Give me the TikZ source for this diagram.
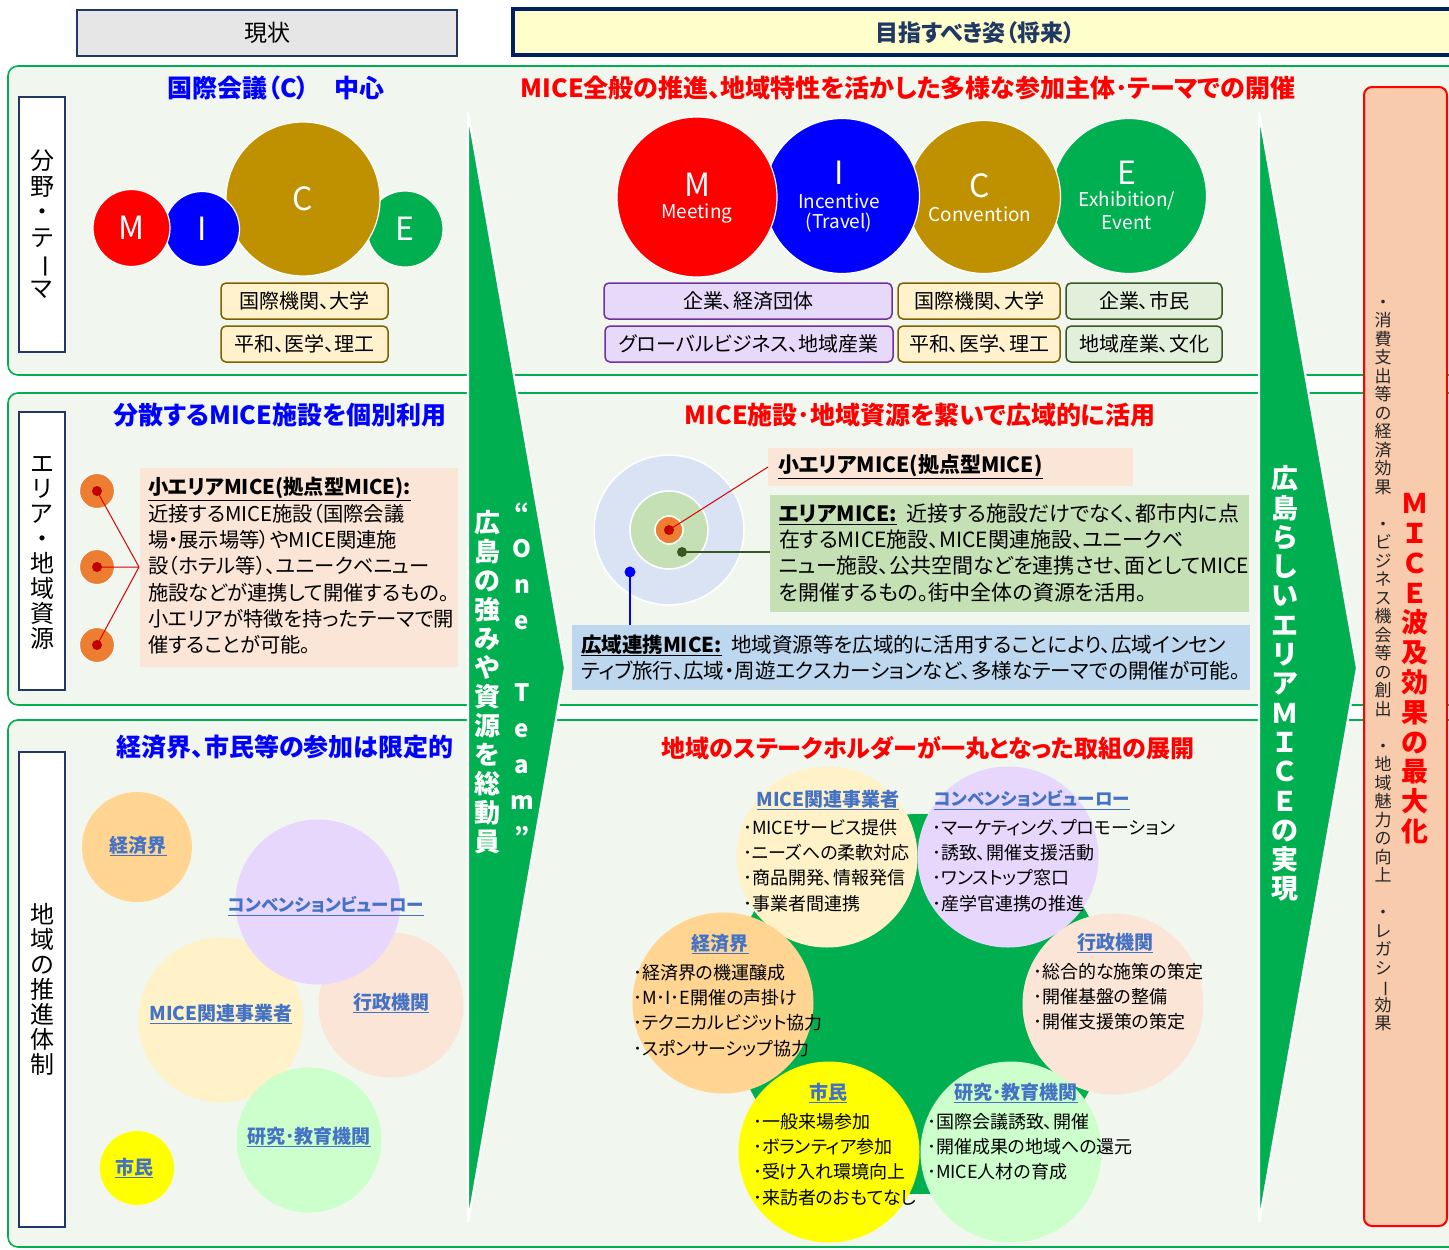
\documentclass[tikz,border=0pt]{standalone}
\usepackage{fontspec}
\usepackage{graphicx}
\setmainfont{Noto Sans CJK JP}[CharacterWidth=AlternateProportional]
\definecolor{cgreen}{HTML}{00B050}
\definecolor{panelfill}{HTML}{F1F6EE}
\definecolor{navy}{HTML}{1F3864}
\definecolor{navyb}{HTML}{002060}
\definecolor{hgray}{HTML}{E7E6E6}
\definecolor{hyel}{HTML}{FFFFCC}
\definecolor{cgold}{HTML}{BF9000}
\definecolor{beige}{HTML}{FFF2CC}
\definecolor{brownb}{HTML}{7F6000}
\definecolor{lpurp}{HTML}{E6D9FA}
\definecolor{purpb}{HTML}{7030A0}
\definecolor{lgreenb}{HTML}{E2EFDA}
\definecolor{dgreen}{HTML}{385723}
\definecolor{peach}{HTML}{FBE5D6}
\definecolor{orng}{HTML}{ED7D31}
\definecolor{dred}{HTML}{C00000}
\definecolor{mgreen}{HTML}{C5E0B4}
\definecolor{lblue}{HTML}{BDD7EE}
\definecolor{llblue}{HTML}{DAE3F3}
\definecolor{labblue}{HTML}{4472C4}
\definecolor{tblue}{HTML}{0000FF}
\definecolor{tred}{HTML}{FF0000}
\definecolor{redfill}{HTML}{F8CBAD}
\definecolor{ckei}{HTML}{FFD591}
\definecolor{cmice}{HTML}{FFF2C9}
\definecolor{cconv}{HTML}{E7D7FD}
\definecolor{ckenk}{HTML}{CCFFCC}
\definecolor{cshimin}{HTML}{FFFF00}
\definecolor{txtdark}{HTML}{262626}
\newcommand\fsz[2]{\fontsize{#1}{#2}\selectfont}
\makeatletter
\def\vt@end{\vt@endmark}
\newcommand\vtext[2]{\vbox{\baselineskip=#1pt\lineskiplimit=-\maxdimen\lineskip=0pt\relax\vt@loop#2\vt@end}}
\def\vt@loop#1{\ifx#1\vt@end\else\vt@char#1\expandafter\vt@loop\fi}
\def\vt@char#1{\hbox to 1.2em{\hss\vrule height .88em depth .12em width 0pt\ifx#1ー\rotatebox[origin=c]{-90}{ー}\else#1\fi\hss}}
\makeatother
\tikzset{
 panel/.style={draw=cgreen, line width=1.6, fill=panelfill, rounded corners=10},
 vlab/.style={draw=navy, line width=1.6, fill=white, font=\fsz{24}{28}, anchor=north west},
 bigarrow/.style={fill=cgreen, draw=white, line width=2.2, line join=miter},
 tagbox/.style={anchor=north west, rounded corners=5, line width=1.5, font=\fsz{20}{24}, text=black, minimum height=36},
 beigebox/.style={tagbox, fill=beige, draw=brownb},
 purpbox/.style={tagbox, fill=lpurp, draw=purpb},
 grnbox/.style={tagbox, fill=lgreenb, draw=dgreen},
 bluetitle/.style={font=\bfseries\fsz{25}{28}, text=tblue},
 redtitle/.style={font=\bfseries\fsz{25}{28}, text=tred},
 mice/.style={circle, draw=white, line width=1.2},
 bigl/.style={text=white, font=\fsz{32}{36}},
 smalll/.style={text=white, font=\fsz{19}{22}},
 dot/.style={circle, minimum size=10},
 body/.style={font=\fsz{21}{26.3}, align=left, anchor=north west, text=black},
 lab/.style={font=\bfseries\fsz{19}{23}, text=labblue},
 item/.style={font=\fsz{18}{25.3}, align=left, anchor=north west, text=black},
 vwhite/.style={anchor=north, text=white, font=\bfseries\fsz{26}{30}},
}
\begin{document}
\begin{tikzpicture}[x=1pt,y=-1pt, every node/.style={inner sep=0pt, outer sep=0pt}]
\useasboundingbox (0,0) rectangle (1449,1250);
\clip (0,0) rectangle (1449,1250);
\fill[white] (0,0) rectangle (1449,1250);
% headers
\node[anchor=north west, minimum width=380, minimum height=46, draw=navy, line width=1.6, fill=hgray, font=\fsz{23}{28}] (hd1) at (77,10) {現状};
\node[anchor=north west, minimum width=960, minimum height=46, draw=navyb, line width=3.5, fill=hyel] (hd2) at (513,9) {};
\node[font=\bfseries\fsz{23}{28}, text=navy] (hd2t) at (975,33) {目指すべき姿（将来）};
% panels
\draw[panel] (8,66) rectangle (1490,375);
\draw[panel] (8,393) rectangle (1490,705);
\draw[panel] (8,720) rectangle (1490,1247);
% vertical labels
\node[vlab, minimum width=46, minimum height=255] (lb1) at (19,97) {\vtext{25.5}{分野・テーマ}};
\node[vlab, minimum width=46, minimum height=278] (lb2) at (19,412) {\vtext{25}{エリア・地域資源}};
\node[vlab, minimum width=46, minimum height=475] (lb3) at (19,752) {\vtext{25}{地域の推進体制}};
% ---------- row 1 left
\node[bluetitle] (t1l) at (276,88) {国際会議（C）　中心};
\node[mice, fill=cgreen, minimum size=76, bigl] (e1) at (405,229) {E};
\node[mice, fill=cgold, minimum size=154, bigl] (c1) at (303,199) {C};
\node[mice, fill=tblue, minimum size=75, bigl] (i1) at (202,229) {I};
\node[mice, fill=tred, minimum size=77, bigl] (m1) at (131.5,228) {M};
\node[beigebox, minimum width=167] (b1) at (221,283) {国際機関、大学};
\node[beigebox, minimum width=167] (b2) at (221,326) {平和、医学、理工};
% ---------- row 1 right
\node[redtitle] (t1r) at (908,88) {MICE全般の推進、地域特性を活かした多様な参加主体･テーマでの開催};
\node[mice, fill=cgreen, minimum size=155] (e2) at (1129,196) {};
\node[mice, fill=cgold, minimum size=153] (c2) at (984,197) {};
\node[mice, fill=tblue, minimum size=155] (i2) at (842,196) {};
\node[mice, fill=tred, minimum size=160] (m2) at (697,197) {};
\node[bigl] (m2a) at (697,185) {M};
\node[smalll] (m2b) at (697,214) {Meeting};
\node[bigl] (i2a) at (839,173) {I};
\node[smalll] (i2b) at (839,201) {Incentive};
\node[smalll] (i2c) at (839,223) {(Travel)};
\node[bigl] (c2a) at (980,186) {C};
\node[smalll] (c2b) at (980,214) {Convention};
\node[bigl] (e2a) at (1127,173) {E};
\node[smalll] (e2b) at (1127,201) {Exhibition/};
\node[smalll] (e2c) at (1127,223) {Event};
\node[purpbox, minimum width=288] (p1) at (604,283) {企業、経済団体};
\node[purpbox, minimum width=288] (p2) at (605,326) {グローバルビジネス、地域産業};
\node[beigebox, minimum width=162] (b3) at (898,283) {国際機関、大学};
\node[beigebox, minimum width=162] (b4) at (898,326) {平和、医学、理工};
\node[grnbox, minimum width=156] (g1) at (1066,283) {企業、市民};
\node[grnbox, minimum width=156] (g2) at (1066,326) {地域産業、文化};
% ---------- row 2 left
\node[bluetitle] (t2l) at (280,415) {分散するMICE施設を個別利用};
\node[anchor=north west, fill=peach, minimum width=318, minimum height=199] (pb) at (140,468) {};
\node[body, font=\fsz{20.3}{26.3}] (pbt) at (148,477.5) {\underline{\textbf{小エリアMICE(拠点型MICE):}}\\近接するMICE施設（国際会議\\場・展示場等）やMICE関連施\\設（ホテル等）、ユニークベニュー\\施設などが連携して開催するもの。\\小エリアが特徴を持ったテーマで開\\催することが可能。};
\node[circle, fill=orng, draw=white, line width=1, minimum size=35] (o1) at (97,491) {};
\node[circle, fill=orng, draw=white, line width=1, minimum size=35] (o2) at (97,567) {};
\node[circle, fill=orng, draw=white, line width=1, minimum size=35] (o3) at (97,645) {};
\coordinate (jn) at (139,567);
\draw[red!85!black, line width=1] (o1.center) -- (jn) (o2.center) -- (jn) (o3.center) -- (jn);
\node[dot, fill=dred] (d1) at (o1) {};
\node[dot, fill=dred] (d2) at (o2) {};
\node[dot, fill=dred] (d3) at (o3) {};
% ---------- row 2 right
\node[redtitle] (t2r) at (920,415) {MICE施設･地域資源を繋いで広域的に活用};
\node[circle, fill=llblue, draw=white, line width=1.6, minimum size=150] (cc1) at (669,530) {};
\node[circle, fill=mgreen, draw=white, line width=1.6, minimum size=78] (cc2) at (669,530) {};
\node[circle, fill=orng, draw=white, line width=1.6, minimum size=28] (cc3) at (669,530) {};
\node[anchor=north west, fill=peach, minimum width=365, minimum height=38] (sbox) at (768,448) {};
\node[anchor=west, font=\bfseries\fsz{21}{26}] (sboxt) at (778,467) {\underline{小エリアMICE(拠点型MICE)}};
\node[anchor=north west, fill=mgreen, minimum width=479, minimum height=117] (gbox) at (770,495) {};
\node[body] (gboxt) at (779,503.5) {\underline{\textbf{エリアMICE:}}\ \ 近接する施設だけでなく、都市内に点\\在するMICE施設、MICE関連施設、ユニークベ\\ニュー施設、公共空間などを連携させ、面としてMICE\\を開催するもの。街中全体の資源を活用。};
\node[anchor=north west, fill=lblue, minimum width=678, minimum height=65] (bbox) at (572,625) {};
\node[body, font=\fsz{20.5}{26.3}] (bboxt) at (581,634.5) {\underline{\textbf{広域連携MICE:}}\ \ 地域資源等を広域的に活用することにより、広域インセン\\ティブ旅行、広域・周遊エクスカーションなど、多様なテーマでの開催が可能。};
\node[dot, fill=dred] (rdot) at (669,530) {};
\node[dot, fill=dgreen] (gdot) at (682,552) {};
\node[dot, fill=tblue, minimum size=11] (bdot) at (630,572) {};
\draw[red!85!black, line width=1] (rdot.center) -- (sbox.west);
\draw[dgreen, line width=1.2] (gdot.center) -- (gdot.center -| gbox.west);
\draw[tblue, line width=1.2] (bdot.center) -- (bdot.center |- bbox.north);
% ---------- row 3 left
\node[bluetitle] (t3l) at (285,747) {経済界、市民等の参加は限定的};
\node[circle, fill=peach, minimum size=145] (gy1) at (391,1005) {};
\node[circle, fill=cmice, minimum size=165] (mc1) at (221,1020) {};
\node[circle, fill=cconv, minimum size=165] (cv1) at (318,902) {};
\node[circle, fill=ckenk, minimum size=145] (kk1) at (309,1140) {};
\node[circle, fill=ckei, minimum size=110] (kz1) at (137,847) {};
\node[circle, fill=cshimin, minimum size=74] (sm1) at (137,1168) {};
\node[lab] (gy1t) at (391,1003) {\underline{行政機関}};
\node[lab] (mc1t) at (221,1014) {\underline{MICE関連事業者}};
\node[lab, font=\bfseries\fsz{17.5}{22}] (cv1t) at (326,906) {\underline{コンベンションビューロー}};
\node[lab] (kk1t) at (309,1137) {\underline{研究･教育機関}};
\node[lab] (kz1t) at (138,846) {\underline{経済界}};
\node[lab] (sm1t) at (134,1168) {\underline{市民}};
% ---------- row 3 right
\node[font=\bfseries\fsz{24}{28}, text=tred] (t3r) at (928,748) {地域のステークホルダーが一丸となった取組の展開};
\fill[cgreen] (920,1004) circle (190);
\node[circle, fill=cmice, minimum size=181] (mc2) at (827,857) {};
\node[lab] (mc2t) at (828,800) {\underline{MICE関連事業者}};
\node[item] (mc2i) at (743,819) {･MICEサービス提供\\･ニーズへの柔軟対応\\･商品開発、情報発信\\･事業者間連携};
\node[circle, fill=cconv, minimum size=181] (cv2) at (1008,857) {};
\node[lab, font=\bfseries\fsz{17.5}{22}] (cv2t) at (1032,800) {\underline{コンベンションビューロー}};
\node[item] (cv2i) at (932,819) {･マーケティング、プロモーション\\･誘致、開催支援活動\\･ワンストップ窓口\\･産学官連携の推進};
\node[circle, fill=peach, minimum size=181] (gy2) at (1113,1004) {};
\node[lab] (gy2t) at (1115,943) {\underline{行政機関}};
\node[item] (gy2i) at (1033,963) {･総合的な施策の策定\\･開催基盤の整備\\･開催支援策の策定};
\node[circle, fill=ckenk, minimum size=181] (kk2) at (1011,1152) {};
\node[lab] (kk2t) at (1016,1093) {\underline{研究･教育機関}};
\node[item] (kk2i) at (927,1113) {･国際会議誘致、開催\\･開催成果の地域への還元\\･MICE人材の育成};
\node[circle, fill=cshimin, minimum size=181] (sm2) at (829,1152) {};
\node[lab] (sm2t) at (828,1093) {\underline{市民}};
\node[item] (sm2i) at (753,1113) {･一般来場参加\\･ボランティア参加\\･受け入れ環境向上\\･来訪者のおもてなし};
\node[circle, fill=ckei, minimum size=181] (kz2) at (723,1003) {};
\node[lab] (kz2t) at (720,944) {\underline{経済界}};
\node[item] (kz2i) at (633,964) {･経済界の機運醸成\\･M･I･E開催の声掛け\\･テクニカルビジット協力\\･スポンサーシップ協力};
% ---------- arrows
\draw[bigarrow] (468,112) -- (565,668) -- (468,1223) -- cycle;
\draw[bigarrow] (1259,112) -- (1357,668) -- (1259,1223) -- cycle;
\node[vwhite] (a1t) at (487,510) {\vtext{29}{広島の強みや資源を総動員}};
\node[vwhite, font=\bfseries\fsz{24}{28}] (a1q) at (522,500) {\vtext{36}{“One　Team”}};
\node[vwhite, font=\bfseries\fsz{27}{30}] (a2t) at (1285,465) {\vtext{29.3}{広島らしいエリアＭＩＣＥの実現}};
% ---------- red box
\node[anchor=north west, minimum width=83, minimum height=1139, draw=tred, fill=redfill, line width=2, rounded corners=8] (rb) at (1364,87) {};
\node[anchor=north, text=tred, font=\bfseries\fsz{27}{30}] (rbt) at (1415,490) {\vtext{29.8}{ＭＩＣＥ波及効果の最大化}};
\node[anchor=north, text=txtdark, font=\fsz{17}{19}] (rbl) at (1383,293.5) {\vtext{18.5}{・消費支出等の経済効果　・ビジネス機会等の創出　・地域魅力の向上　・レガシー効果}};
\end{tikzpicture}
\end{document}
